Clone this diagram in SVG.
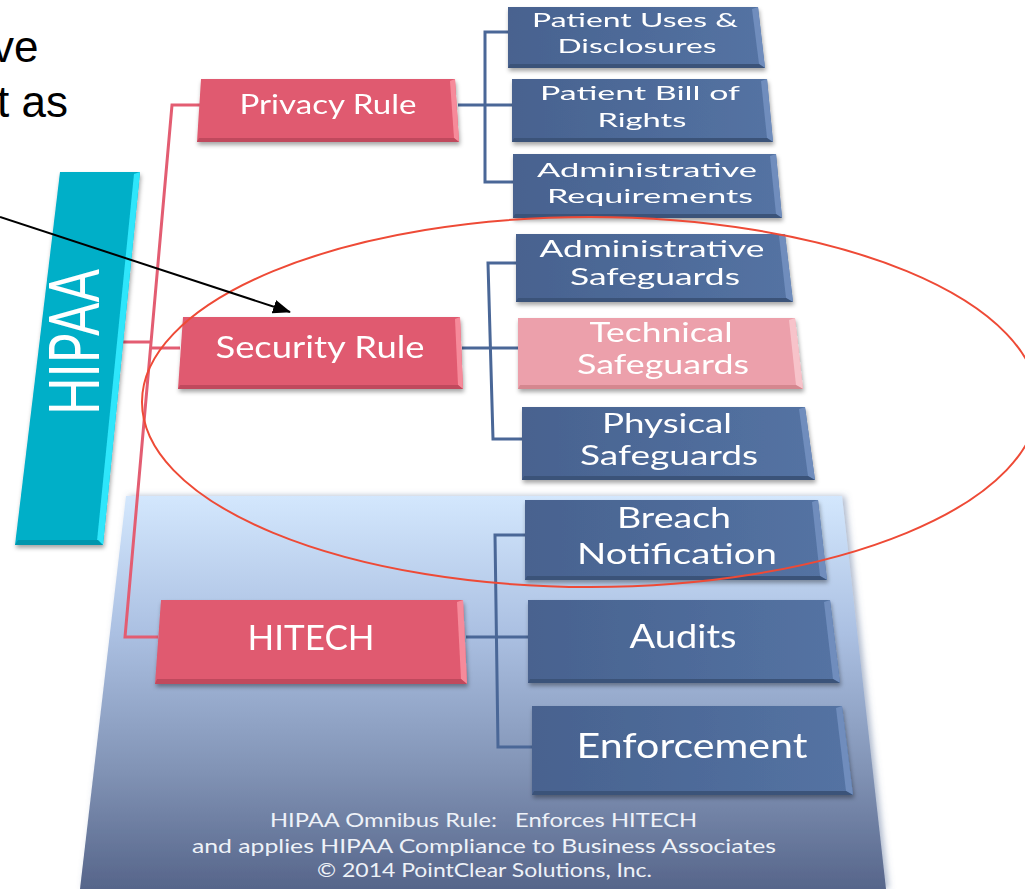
<svg xmlns="http://www.w3.org/2000/svg" width="1025" height="889" viewBox="0 0 1025 889">
  <defs>
    <linearGradient id="panelGrad" x1="0" y1="496" x2="0" y2="889" gradientUnits="userSpaceOnUse">
      <stop offset="0" stop-color="#d3e7fd"/>
      <stop offset="0.35" stop-color="#abc0e2"/>
      <stop offset="0.7" stop-color="#8193b5"/>
      <stop offset="1" stop-color="#56658a"/>
    </linearGradient>
    <linearGradient id="blueGrad" x1="0" y1="0" x2="1" y2="0">
      <stop offset="0" stop-color="#48628f"/>
      <stop offset="1" stop-color="#5473a3"/>
    </linearGradient>
    <filter id="shadow" x="-10%" y="-20%" width="120%" height="150%">
      <feDropShadow dx="1" dy="3" stdDeviation="2" flood-color="#000" flood-opacity="0.35"/>
    </filter>
    <filter id="glow" x="-10%" y="-10%" width="120%" height="120%">
      <feDropShadow dx="3" dy="0" stdDeviation="3" flood-color="#5a6f99" flood-opacity="0.5"/>
    </filter>
    <marker id="arrowHead" markerWidth="18" markerHeight="14" refX="17" refY="7" orient="auto" markerUnits="userSpaceOnUse">
      <path d="M0,0 L18,7 L0,14 Z" fill="#000"/>
    </marker>
    <style>
      .red { fill: #e05a6f; }
      .redHi { fill: #f68a9a; }
      .redLo { fill: #c04a5d; }
      .blue { fill: url(#blueGrad); }
      .blueHi { fill: #6f8dbd; }
      .blueLo { fill: #3a5279; }
      .pink { fill: #eca0ab; }
      .pinkHi { fill: #f7c3ca; }
      .pinkLo { fill: #d5878f; }
      .cyan { fill: #00afc8; }
      .cyanHi { fill: #2fe6fb; }
      .cyanLo { fill: #0096ad; }
      .box { filter: url(#shadow); }
      .lbl { fill: #ffffff; font-family: Lato, "Open Sans", sans-serif; text-anchor: middle; }
      .redLine { stroke: #e35d72; stroke-width: 3; fill: none; }
      .blueLine { stroke: #4a6797; stroke-width: 3; fill: none; }
      .note { fill: #eef2f8; font-family: Lato, "Open Sans", sans-serif; font-size: 19px; white-space: pre; }
      .side { fill: #000; font-family: "Liberation Sans", Arial, sans-serif; font-size: 44px; }
    </style>
  </defs>

  <rect width="1025" height="889" fill="#ffffff"/>

  <!-- partial slide text at the left edge -->
  <text class="side" x="-8" y="62">ve</text>
  <text class="side" x="-3" y="117">t as</text>

  <!-- HITECH background panel -->
  <polygon points="126,496 842,496 886,889 80,889" fill="url(#panelGrad)" filter="url(#glow)"/>

  <!-- connectors -->
  <g id="connectors">
    <polyline class="redLine" points="200,105 172,105 125,637 158,637"/>
    <line class="redLine" x1="101" y1="342" x2="150" y2="342"/>
    <line class="redLine" x1="150" y1="348" x2="180" y2="348"/>
    <polyline class="blueLine" points="508,32 485,32 485,182 514,182"/>
    <line class="blueLine" x1="458" y1="105" x2="512" y2="105"/>
    <polyline class="blueLine" points="517,263 488,263 493,439 523,439"/>
    <line class="blueLine" x1="462" y1="348" x2="519" y2="348"/>
    <polyline class="blueLine" points="526,535 495,535 498,747 533,747"/>
    <line class="blueLine" x1="466" y1="637" x2="529" y2="637"/>
  </g>

  <!-- HIPAA root -->
  <g id="hipaa" class="box">
    <polygon class="cyan" points="60,172 140,172 103,545 15,545"/>
    <polygon class="cyanHi" points="134,174 140,172 103,545 97,541"/>
    <polygon class="cyanLo" points="15,545 103,545 98,540 18,540"/>
    <text class="lbl" transform="translate(99,342) rotate(-90)" x="0" y="0" font-size="70" textLength="146" lengthAdjust="spacingAndGlyphs">HIPAA</text>
  </g>

  <!-- level-one rules -->
  <g id="privacy-rule" class="box">
    <polygon class="red" points="201,79 455,79 459,142 197,142"/>
    <polygon class="redHi" points="450,81 455,79 459,142 454,138"/>
    <polygon class="redLo" points="197,142 459,142 454,138 199,138"/>
    <text class="lbl" x="328" y="114" font-size="27" textLength="177" lengthAdjust="spacingAndGlyphs">Privacy Rule</text>
  </g>

  <g id="security-rule" class="box">
    <polygon class="red" points="183,317 460,317 463,389 178,389"/>
    <polygon class="redHi" points="455,319 460,317 463,389 458,385"/>
    <polygon class="redLo" points="178,389 463,389 458,385 180,385"/>
    <text class="lbl" x="320" y="358" font-size="30" textLength="209" lengthAdjust="spacingAndGlyphs">Security Rule</text>
  </g>

  <g id="hitech" class="box">
    <polygon class="red" points="161,600 463,600 467,684 155,684"/>
    <polygon class="redHi" points="457,602 463,600 467,684 461,679"/>
    <polygon class="redLo" points="155,684 467,684 461,679 157,679"/>
    <text class="lbl" x="311" y="650" font-size="35" textLength="127" lengthAdjust="spacingAndGlyphs">HITECH</text>
  </g>

  <!-- Privacy Rule children -->
  <g id="patient-uses" class="box">
    <polygon class="blue" points="508,7 758,7 765,68 508,68"/>
    <polygon class="blueHi" points="752,9 758,7 765,68 759,64"/>
    <polygon class="blueLo" points="508,68 765,68 759,64 510,64"/>
    <text class="lbl" x="635" y="27" font-size="19" textLength="206" lengthAdjust="spacingAndGlyphs">Patient Uses &amp;</text>
    <text class="lbl" x="637" y="53" font-size="19" textLength="159" lengthAdjust="spacingAndGlyphs">Disclosures</text>
  </g>

  <g id="bill-of-rights" class="box">
    <polygon class="blue" points="512,79 767,79 773,142 512,142"/>
    <polygon class="blueHi" points="761,81 767,79 773,142 767,138"/>
    <polygon class="blueLo" points="512,142 773,142 767,138 514,138"/>
    <text class="lbl" x="640" y="100" font-size="19" textLength="200" lengthAdjust="spacingAndGlyphs">Patient Bill of</text>
    <text class="lbl" x="642" y="127" font-size="19" textLength="89" lengthAdjust="spacingAndGlyphs">Rights</text>
  </g>

  <g id="admin-requirements" class="box">
    <polygon class="blue" points="513,154 776,154 782,218 513,218"/>
    <polygon class="blueHi" points="770,156 776,154 782,218 776,214"/>
    <polygon class="blueLo" points="513,218 782,218 776,214 515,214"/>
    <text class="lbl" x="647" y="177" font-size="19" textLength="220" lengthAdjust="spacingAndGlyphs">Administrative</text>
    <text class="lbl" x="650" y="203" font-size="19" textLength="206" lengthAdjust="spacingAndGlyphs">Requirements</text>
  </g>

  <!-- Security Rule children -->
  <g id="admin-safeguards" class="box">
    <polygon class="blue" points="516,234 785,234 793,302 516,302"/>
    <polygon class="blueHi" points="779,236 785,234 793,302 786,298"/>
    <polygon class="blueLo" points="516,302 793,302 786,298 518,298"/>
    <text class="lbl" x="652" y="257" font-size="23" textLength="225" lengthAdjust="spacingAndGlyphs">Administrative</text>
    <text class="lbl" x="655" y="285" font-size="23" textLength="170" lengthAdjust="spacingAndGlyphs">Safeguards</text>
  </g>

  <g id="technical-safeguards" class="box">
    <polygon class="pink" points="518,318 795,318 803,389 518,389"/>
    <polygon class="pinkHi" points="789,320 795,318 803,389 796,385"/>
    <polygon class="pinkLo" points="518,389 803,389 796,385 520,385"/>
    <text class="lbl" x="661" y="342" font-size="27" textLength="143" lengthAdjust="spacingAndGlyphs">Technical</text>
    <text class="lbl" x="663" y="374" font-size="27" textLength="172" lengthAdjust="spacingAndGlyphs">Safeguards</text>
  </g>

  <g id="physical-safeguards" class="box">
    <polygon class="blue" points="522,407 805,407 815,480 522,480"/>
    <polygon class="blueHi" points="799,409 805,407 815,480 808,476"/>
    <polygon class="blueLo" points="522,480 815,480 808,476 524,476"/>
    <text class="lbl" x="667" y="433" font-size="27" textLength="130" lengthAdjust="spacingAndGlyphs">Physical</text>
    <text class="lbl" x="669" y="465" font-size="27" textLength="178" lengthAdjust="spacingAndGlyphs">Safeguards</text>
  </g>

  <!-- HITECH children -->
  <g id="breach-notification" class="box">
    <polygon class="blue" points="525,500 818,500 827,580 525,580"/>
    <polygon class="blueHi" points="812,502 818,500 827,580 820,576"/>
    <polygon class="blueLo" points="525,580 827,580 820,576 527,576"/>
    <text class="lbl" x="674" y="528" font-size="29" textLength="114" lengthAdjust="spacingAndGlyphs">Breach</text>
    <text class="lbl" x="677" y="564" font-size="29" textLength="200" lengthAdjust="spacingAndGlyphs">Notification</text>
  </g>

  <g id="audits" class="box">
    <polygon class="blue" points="528,600 830,600 840,683 528,683"/>
    <polygon class="blueHi" points="824,602 830,600 840,683 833,679"/>
    <polygon class="blueLo" points="528,683 840,683 833,679 530,679"/>
    <text class="lbl" x="683" y="648" font-size="32" textLength="107" lengthAdjust="spacingAndGlyphs">Audits</text>
  </g>

  <g id="enforcement" class="box">
    <polygon class="blue" points="532,706 842,706 853,795 532,795"/>
    <polygon class="blueHi" points="836,708 842,706 853,795 846,791"/>
    <polygon class="blueLo" points="532,795 853,795 846,791 534,791"/>
    <text class="lbl" x="692" y="758" font-size="34" textLength="231" lengthAdjust="spacingAndGlyphs">Enforcement</text>
  </g>

  <!-- footnote inside the panel -->
  <text class="note" x="270" y="827" textLength="427" lengthAdjust="spacingAndGlyphs" xml:space="preserve">HIPAA Omnibus Rule:   Enforces HITECH</text>
  <text class="note" x="192" y="853" textLength="584" lengthAdjust="spacingAndGlyphs">and applies HIPAA Compliance to Business Associates</text>
  <text class="note" x="317" y="877" textLength="335" lengthAdjust="spacingAndGlyphs">© 2014 PointClear Solutions, Inc.</text>

  <!-- highlight ring around the Security Rule branch -->
  <ellipse cx="590" cy="402" rx="448" ry="185" fill="none" stroke="#ee4a36" stroke-width="2"/>

  <!-- callout arrow -->
  <line x1="0" y1="217" x2="290" y2="312" stroke="#000" stroke-width="2" marker-end="url(#arrowHead)"/>
</svg>
